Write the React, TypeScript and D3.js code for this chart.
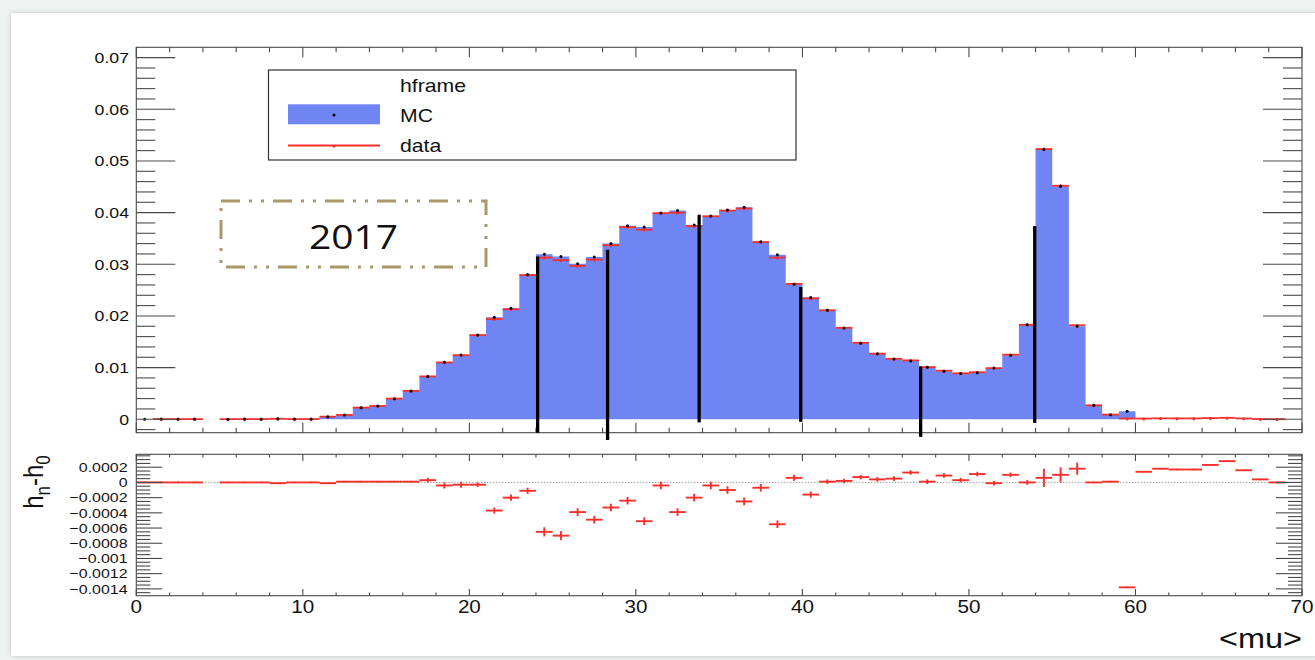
import React from 'react';
import * as d3 from 'd3';

// Histogram binning: 70 bins of width 1 in <mu>
const xMin = 0;
const xMax = 70;
const binWidth = 1;

// MC expectation per bin (normalised)
const mcValues = [
  0.00001, 0.00003, 0.00003, 0.00003, 0, 0.00002, 0.00003, 0.00004, 0.00011, 0.00003,
  0.00004, 0.00051, 0.00083, 0.00225, 0.00257, 0.00399, 0.00549, 0.00827, 0.01104, 0.01243,
  0.01633, 0.01977, 0.0215, 0.02801, 0.03195, 0.0315, 0.03009, 0.03139, 0.03403, 0.03744,
  0.03721, 0.03994, 0.04039, 0.0376, 0.03934, 0.0405, 0.04105, 0.03437, 0.03185, 0.02614,
  0.02356, 0.02109, 0.01768, 0.01473, 0.01266, 0.01165, 0.01127, 0.01009, 0.00931, 0.00887,
  0.00899, 0.00991, 0.0124, 0.0183, 0.05224, 0.0451, 0.01802, 0.0027, 0.00089, 0.00153,
  0, 0, 0, 0, 0, 0, 0, 0, 0, 0,
];

// Data per bin (null = empty bin)
const dataValues: (number | null)[] = [
  null, 0.00003, 0.00003, 0.00003, null, 0.00002, 0.00003, 0.00004, 0.0001, 0.00003,
  0.00004, 0.0005, 0.00084, 0.00226, 0.00258, 0.004, 0.0055, 0.0083, 0.011, 0.0124,
  0.0163, 0.0194, 0.0213, 0.0279, 0.0313, 0.0308, 0.0297, 0.0309, 0.0337, 0.0372,
  0.0367, 0.0399, 0.04, 0.0374, 0.0393, 0.0404, 0.0408, 0.0343, 0.0313, 0.0262,
  0.0234, 0.0211, 0.0177, 0.0148, 0.0127, 0.0117, 0.0114, 0.0101, 0.0094, 0.0089,
  0.0091, 0.0099, 0.0125, 0.0183, 0.0523, 0.0452, 0.0182, 0.0027, 0.0009, 0.00015,
  0.00014, 0.00018, 0.00017, 0.00017, 0.00023, 0.00028, 0.00016, 0.00004, 0.00001, null,
];

// Difference h_n - h_0 per bin
const residuals: (number | null)[] = [
  0, 0, 0, 0, null, 0, 0, 0, -0.00001, 0,
  0, -0.00001, 0.00001, 0.00001, 0.00001, 0.00001, 0.00001, 0.00003, -0.00004, -0.00003,
  -0.00003, -0.00037, -0.0002, -0.00011, -0.00065, -0.0007, -0.00039, -0.00049, -0.00033, -0.00024,
  -0.00051, -0.00004, -0.00039, -0.0002, -0.00004, -0.0001, -0.00025, -0.00007, -0.00055, 0.00006,
  -0.00016, 0.00001, 0.00002, 0.00007, 0.00004, 0.00005, 0.00013, 0.00001, 0.00009, 0.00003,
  0.00011, -0.00001, 0.0001, 0, 0.00006, 0.0001, 0.00018, 0, 0.00001, -0.00138,
  0.00014, 0.00018, 0.00017, 0.00017, 0.00023, 0.00028, 0.00016, 0.00004, 0, null,
];

// Uncertainty on h_n - h_0 per bin
const residualErrors = [
  0.00001, 0.00001, 0.00001, 0.00001, 0.00001, 0.00001, 0.00001, 0.00001, 0.00001, 0.00001,
  0.00001, 0.00001, 0.00001, 0.00001, 0.00001, 0.00001, 0.00001, 0.00003, 0.00004, 0.00004,
  0.00003, 0.00004, 0.00004, 0.00004, 0.00006, 0.00006, 0.00005, 0.00005, 0.00005, 0.00005,
  0.00005, 0.00005, 0.00005, 0.00005, 0.00005, 0.00005, 0.00005, 0.00005, 0.00005, 0.00004,
  0.00004, 0.00003, 0.00003, 0.00003, 0.00003, 0.00003, 0.00003, 0.00003, 0.00003, 0.00003,
  0.00003, 0.00003, 0.00003, 0.00003, 0.00012, 0.0001, 0.00008, 0.00001, 0.00001, 0.00001,
  0.00001, 0.00001, 0.00001, 0.00001, 0.00001, 0.00001, 0.00001, 0.00001, 0.00001, 0.00001,
];

// Vertical markers (x position, upper and lower end in top-pad units)
const markerX = [24.1, 28.3, 33.8, 39.9, 47.1, 53.95];
const markerTop = [0.0315, 0.0328, 0.0396, 0.0256, 0.0102, 0.0374];
const markerBottom = [-0.0026, -0.004, -0.0006, -0.0005, -0.0034, -0.0007];

// Axis ticks and labels
const xTickValues = [0, 10, 20, 30, 40, 50, 60, 70];
const xTickLabels = ['0', '10', '20', '30', '40', '50', '60', '70'];
const topYTickValues = [0, 0.01, 0.02, 0.03, 0.04, 0.05, 0.06, 0.07];
const topYTickLabels = ['0', '0.01', '0.02', '0.03', '0.04', '0.05', '0.06', '0.07'];
const lowYTickValues = [0.0002, 0, -0.0002, -0.0004, -0.0006, -0.0008, -0.001, -0.0012, -0.0014];
const lowYTickLabels = ['0.0002', '0', '\u22120.0002', '\u22120.0004', '\u22120.0006', '\u22120.0008', '\u22120.001', '\u22120.0012', '\u22120.0014'];

const legendLabels = ['hframe', 'MC', 'data'];
const yearLabel = '2017';

const FONT = "'Liberation Sans', Arial, Helvetica, sans-serif";
const SX = 1.18;
const MC_FILL = '#7489f5';
const MC_FILL_DARK = '#6c82f2';
const RED = '#f5302a';
const AXIS = '#4a4a4a';
const TEXT = '#111';

function T(props: {
  x: number; y: number; size: number; anchor?: 'start' | 'middle' | 'end';
  family?: string; rotate?: number; children: React.ReactNode;
}) {
  const { x, y, size, anchor = 'start', family = FONT, rotate = 0, children } = props;
  return (
    <text
      transform={`translate(${x},${y}) scale(${SX},1)${rotate ? ` rotate(${rotate})` : ''}`}
      fontSize={size}
      fontFamily={family}
      textAnchor={anchor}
      fill={TEXT}
    >
      {children}
    </text>
  );
}

function near(a: number, b: number) {
  return Math.abs(a - b) < 1e-9;
}

export default function App() {
  const W = 1315;
  const H = 660;

  const x = d3.scaleLinear().domain([xMin, xMax]).range([136.3, 1302]);
  const yTop = d3.scaleLinear().domain([-0.0026, 0.072]).range([432.7, 47.3]);
  const yLow = d3.scaleLinear().domain([-0.00149, 0.00037]).range([595.7, 454.3]);

  const edge = (i: number) => xMin + i * binWidth;
  const centre = (i: number) => xMin + (i + 0.5) * binWidth;

  // MC histogram as a stepped area
  const mcSteps: [number, number][] = mcValues.flatMap((v, i) => [
    [edge(i), v] as [number, number],
    [edge(i + 1), v] as [number, number],
  ]);
  const mcArea = d3
    .area<[number, number]>()
    .x((d) => x(d[0]))
    .y0(yTop(0))
    .y1((d) => yTop(d[1]));

  // tick grids
  const xMinor = d3.range(0, 36).map((k) => k * 2).filter((v) => v <= xMax && v % 10 !== 0);
  const topYMinor = d3
    .range(-1, 37)
    .map((k) => k * 0.002)
    .filter((v) => v > yTop.domain()[0] && v < yTop.domain()[1] - 1e-9)
    .filter((v) => !topYTickValues.some((t) => near(t, v)));
  const lowYMinor = d3
    .range(-29, 8)
    .map((k) => k * 0.00005)
    .filter((v) => v > yLow.domain()[0] && v < yLow.domain()[1])
    .filter((v) => !lowYTickValues.some((t) => near(t, v)));

  const topFrame = { x0: 136.3, x1: 1302, y0: 47.3, y1: 432.7 };
  const lowFrame = { x0: 136.3, x1: 1302, y0: 454.3, y1: 595.7 };

  const frameTicks = (
    f: { x0: number; x1: number; y0: number; y1: number },
    ys: d3.ScaleLinear<number, number>,
    yMajor: number[],
    yMinor: number[],
    yMaj: number,
    yMin: number,
    xMaj: number,
    xMinL: number,
    key: string
  ) => (
    <g key={key} stroke={AXIS} strokeWidth={1.1} fill="none">
      <rect x={f.x0} y={f.y0} width={f.x1 - f.x0} height={f.y1 - f.y0} />
      {yMajor.map((v, i) => (
        <g key={`ym${i}`}>
          <line x1={f.x0} x2={f.x0 + yMaj} y1={ys(v)} y2={ys(v)} />
          <line x1={f.x1} x2={f.x1 - yMaj} y1={ys(v)} y2={ys(v)} />
        </g>
      ))}
      {yMinor.map((v, i) => (
        <g key={`yn${i}`}>
          <line x1={f.x0} x2={f.x0 + yMin} y1={ys(v)} y2={ys(v)} />
          <line x1={f.x1} x2={f.x1 - yMin} y1={ys(v)} y2={ys(v)} />
        </g>
      ))}
      {xTickValues.map((v, i) => (
        <g key={`xm${i}`}>
          <line x1={x(v)} x2={x(v)} y1={f.y1} y2={f.y1 - xMaj} />
          <line x1={x(v)} x2={x(v)} y1={f.y0} y2={f.y0 + xMaj} />
        </g>
      ))}
      {xMinor.map((v, i) => (
        <g key={`xn${i}`}>
          <line x1={x(v)} x2={x(v)} y1={f.y1} y2={f.y1 - xMinL} />
          <line x1={x(v)} x2={x(v)} y1={f.y0} y2={f.y0 + xMinL} />
        </g>
      ))}
    </g>
  );

  return (
    <svg
      width={W}
      height={H}
      viewBox={`0 0 ${W} ${H}`}
      style={{ position: 'absolute', left: 0, top: 0, display: 'block' }}
    >
      <defs>
        <filter id="canvasShadow" x="-5%" y="-5%" width="110%" height="110%">
          <feDropShadow dx="0" dy="0" stdDeviation="2" floodColor="#9aa3a0" floodOpacity="0.6" />
        </filter>
        <pattern id="mcTexture" width="2" height="2" patternUnits="userSpaceOnUse">
          <rect width="2" height="2" fill={MC_FILL} />
          <rect width="1" height="1" fill={MC_FILL_DARK} />
          <rect x="1" y="1" width="1" height="1" fill={MC_FILL_DARK} />
        </pattern>
      </defs>

      {/* page and canvas */}
      <rect x={0} y={0} width={W} height={H} fill="#eef2f1" />
      <rect x={11} y={13} width={W - 8} height={643} fill="#ffffff" filter="url(#canvasShadow)" />

      {/* ---------- upper pad ---------- */}
      <path d={mcArea(mcSteps) ?? ''} fill="url(#mcTexture)" stroke="none" />

      {/* data: horizontal bin bars with markers */}
      <g stroke={RED} strokeWidth={1.8} fill="none">
        {dataValues.map((v, i) =>
          v === null ? null : (
            <g key={`d${i}`}>
              <line x1={x(edge(i))} x2={x(edge(i + 1))} y1={yTop(v)} y2={yTop(v)} />
              <line
                x1={x(centre(i))}
                x2={x(centre(i))}
                y1={yTop(v - residualErrors[i]) + 1}
                y2={yTop(v + residualErrors[i]) - 1}
                strokeWidth={1}
              />
            </g>
          )
        )}
      </g>
      <g fill={RED}>
        {dataValues.map((v, i) =>
          v === null ? null : <circle key={`dm${i}`} cx={x(centre(i))} cy={yTop(v) + 0.6} r={1.4} />
        )}
      </g>
      {/* MC points */}
      <g fill="#000">
        {mcValues.map((v, i) =>
          v > 0 ? <circle key={`mc${i}`} cx={x(centre(i))} cy={yTop(v)} r={1.5} /> : null
        )}
      </g>

      {frameTicks(topFrame, yTop, topYTickValues, topYMinor, 39, 19, 10, 5, 'topFrame')}

      {topYTickValues.map((v, i) => (
        <T key={`tyl${i}`} x={129} y={yTop(v) + 5.4} size={15} anchor="end">
          {topYTickLabels[i]}
        </T>
      ))}

      {/* vertical markers */}
      <g stroke="#000" strokeWidth={3.3}>
        {markerX.map((mx, i) => (
          <line key={`vm${i}`} x1={x(mx)} x2={x(mx)} y1={yTop(markerBottom[i])} y2={yTop(markerTop[i])} />
        ))}
      </g>

      {/* legend */}
      <g>
        <rect x={268.5} y={70} width={527.5} height={90} fill="#fff" stroke="#333" strokeWidth={1.2} />
        <rect x={288} y={104.3} width={92} height={20} fill="url(#mcTexture)" />
        <circle cx={334} cy={115} r={1.5} fill="#000" />
        <line x1={288} x2={380} y1={145.5} y2={145.5} stroke={RED} strokeWidth={1.8} />
        <circle cx={334} cy={146.3} r={1.4} fill={RED} />
        <T x={400} y={91.5} size={18}>{legendLabels[0]}</T>
        <T x={400} y={122} size={18}>{legendLabels[1]}</T>
        <T x={400} y={151.5} size={18}>{legendLabels[2]}</T>
      </g>

      {/* year box */}
      <g>
        <rect
          x={221}
          y={201}
          width={265}
          height={66}
          fill="none"
          stroke="#a8986a"
          strokeWidth={3}
          strokeDasharray="19 9 3 9 3 9"
        />
        <T x={353.5} y={249} size={33} anchor="middle" family="'Open Sans', 'Noto Sans', sans-serif">
          {yearLabel}
        </T>
      </g>

      {/* ---------- lower pad ---------- */}
      <line
        x1={lowFrame.x0}
        x2={lowFrame.x1}
        y1={yLow(0)}
        y2={yLow(0)}
        stroke="#777"
        strokeWidth={1}
        strokeDasharray="1 2"
      />
      <g stroke={RED} strokeWidth={1.9} fill="none">
        {residuals.map((r, i) =>
          r === null ? null : (
            <g key={`r${i}`}>
              <line x1={x(edge(i))} x2={x(edge(i + 1))} y1={yLow(r)} y2={yLow(r)} />
              <line
                x1={x(centre(i))}
                x2={x(centre(i))}
                y1={yLow(r - residualErrors[i])}
                y2={yLow(r + residualErrors[i])}
              />
            </g>
          )
        )}
      </g>

      {frameTicks(lowFrame, yLow, lowYTickValues, lowYMinor, 26, 14, 6.7, 3.3, 'lowFrame')}

      {lowYTickValues.map((v, i) => (
        <T key={`lyl${i}`} x={127.5} y={yLow(v) + 4.8} size={13.5} anchor="end">
          {lowYTickLabels[i]}
        </T>
      ))}

      {xTickValues.map((v, i) => (
        <T key={`xl${i}`} x={x(v)} y={613} size={17.5} anchor="middle">
          {xTickLabels[i]}
        </T>
      ))}

      {/* axis titles */}
      <T x={1302} y={648} size={27.5} anchor="end">
        {'<mu>'}
      </T>
      <T x={43} y={482} size={24} anchor="middle" rotate={-90}>
        <tspan>h</tspan>
        <tspan fontSize={17} dy={6}>n</tspan>
        <tspan dy={-6}>-h</tspan>
        <tspan fontSize={17} dy={6}>0</tspan>
      </T>
    </svg>
  );
}
